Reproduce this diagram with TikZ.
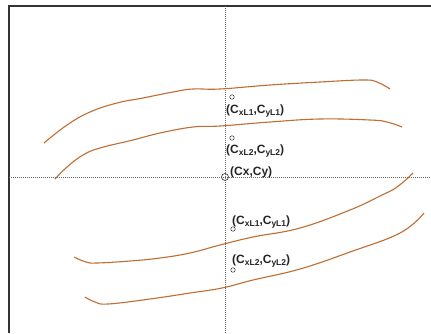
\documentclass[tikz,border=0pt]{standalone}
\usepackage{fontspec}
\setmainfont{Liberation Sans}
\definecolor{curvecol}{RGB}{190,110,50}
\newcommand{\mysb}[1]{\raisebox{-0.35ex}{\fontsize{8.5}{9}\selectfont #1}}
\begin{document}
\begin{tikzpicture}[x=1pt,y=-1pt,
  curve/.style={draw=curvecol, line width=1.1pt},
  axis/.style={draw=black!60, line width=0.6pt, dash pattern=on 1pt off 1pt},
  lbl/.style={anchor=base west, inner sep=0pt, font=\fontsize{12}{13}\selectfont\bfseries, text=black!85},
  dot/.style={circle, draw=black!80, line width=0.5pt, inner sep=0pt, minimum size=4.5pt},
  bigdot/.style={circle, draw=black!80, line width=0.6pt, inner sep=0pt, minimum size=7pt}]
\useasboundingbox (0,0) rectangle (431,333);
\fill[white] (0,0) rectangle (431,333);
% frame
\draw[line width=1.3pt, black!80] (9,333) -- (9,6) -- (431,6);
% axes
\coordinate (vt) at (225,6);
\coordinate (vb) at (225,333);
\coordinate (hl) at (9,177);
\coordinate (hr) at (431,177);
\draw[axis] (vt) -- (vb);
\draw[axis] (hl) -- (hr);
% curves
\draw[curve] plot[smooth, tension=0.7] coordinates {(44,143) (67,125) (90,112) (117,103) (143,98) (173,92) (193,89) (220,89) (270,85) (320,82) (363,80) (377,82) (390,89)};
\draw[curve] plot[smooth, tension=0.7] coordinates {(55,179) (67,167) (83,155) (100,148) (133,140) (160,133) (193,127) (220,126) (270,122) (320,119) (370,120) (387,122) (402,127)};
\draw[curve] plot[smooth, tension=0.7] coordinates {(74,257) (86,262) (97,263) (130,261) (160,258) (190,253) (220,245) (253,237) (300,228) (350,210) (380,196) (397,187) (413,173)};
\draw[curve] plot[smooth, tension=0.7] coordinates {(85,297) (95,302) (108,304) (150,299) (190,293) (222,288) (253,280) (300,269) (350,252) (400,233) (424,213)};
% points
\node[bigdot] (c0) at (225,177) {};
\node[dot] (p1) at (232,97) {};
\node[dot] (p2) at (232,138) {};
\node[dot] (p3) at (233,229) {};
\node[dot] (p4) at (233,270) {};
% labels
\node[lbl] (t1) at (226,113) {(C\mysb{xL1},C\mysb{yL1})};
\node[lbl] (t2) at (226,153) {(C\mysb{xL2},C\mysb{yL2})};
\node[lbl] (t0) at (230,175) {(Cx,Cy)};
\node[lbl] (t3) at (232,224) {(C\mysb{xL1},C\mysb{yL1})};
\node[lbl] (t4) at (232,263) {(C\mysb{xL2},C\mysb{yL2})};
\end{tikzpicture}
\end{document}
